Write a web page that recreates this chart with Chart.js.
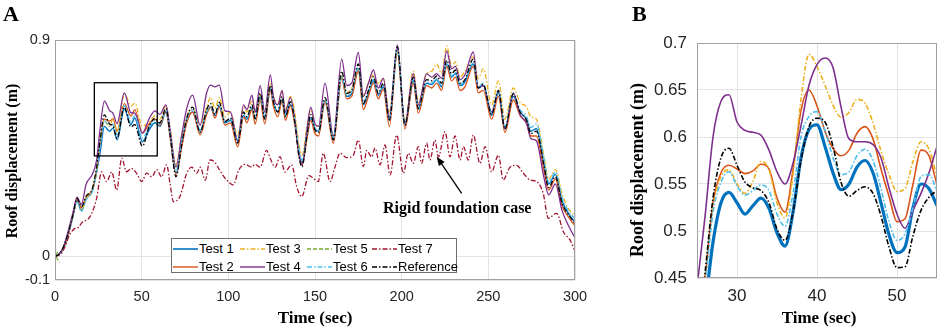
<!DOCTYPE html>
<html><head><meta charset="utf-8">
<script src="https://cdn.jsdelivr.net/npm/chart.js@4.4.1/dist/chart.umd.min.js"></script>
<style>
html,body{margin:0;padding:0;background:#fff;}
#wrap{position:relative;width:941px;height:330px;overflow:hidden;background:#fff;}
canvas{position:absolute;top:0;}
.serif{position:absolute;font-family:"Liberation Serif","Times New Roman",serif;font-weight:bold;color:#000;white-space:nowrap;line-height:1;}
.rot{transform:translate(-50%,-50%) rotate(-90deg);}
.ctr{transform:translate(-50%,-50%);}
#legend{position:absolute;left:171px;top:238px;width:286px;height:35px;border:1px solid #6e6e6e;background:#fff;box-sizing:border-box;}
.li{position:absolute;font-family:"Liberation Sans",Arial,sans-serif;font-size:13px;color:#000;line-height:1;white-space:nowrap;}
.ls{position:absolute;}
</style></head>
<body><div id="wrap">
<canvas id="cA" width="600" height="330" style="left:0"></canvas>
<canvas id="cB" width="341" height="330" style="left:600px"></canvas>
<div class="serif" style="left:3px;top:3px;font-size:22px;">A</div>
<div class="serif" style="left:632px;top:3px;font-size:22px;">B</div>
<div class="serif rot" style="left:12px;top:161px;font-size:16px;">Roof displacement (m)</div>
<div class="serif rot" style="left:637px;top:170px;font-size:18px;">Roof displacement (m)</div>
<div class="serif ctr" style="left:315px;top:317px;font-size:17px;">Time (sec)</div>
<div class="serif ctr" style="left:819px;top:317px;font-size:17px;">Time (sec)</div>
<div class="serif" style="left:383px;top:200px;font-size:16px;">Rigid foundation case</div>
<div id="legend"></div>
</div>
<script>
// ---------- Panel A data ----------
const timeA = [0,2,5,8,10.5,12.7,15.2,18,21.5,24,
26,28.5,31.5,33.5,35.8,40,43.8,46,50.4,54.5,
57.7,60.5,64,66.5,69.8,73,76,79.4,83.7,87.5,
89.8,92.3,94.8,98,101.2,105.4,108.8,110.7,113.6,115.5,
118.4,121,124.2,126.1,128.5,131,132.9,135.8,138.5,140.6,
142.5,145.4,147.5,150,152,155.8,160.6,165.4,168.3,171.2,
175,177.9,180.8,183.7,186.5,189.4,192.9,197.5,201.9,206.7,
209.6,214.4,217.3,220.2,223,226,228.8,231,233.7,236.5,
241.3,244.2,247.1,251.9,255.8,259.6,264.4,268.3,272.1,274.5,
277.7,282,284.8,288.7,292.5,296,300];

const refA = [0,0.005,0.04,0.105,0.175,0.24,0.205,0.25,0.28,0.37,
0.48,0.588,0.55,0.542,0.49,0.62,0.538,0.547,0.458,0.543,
0.574,0.555,0.615,0.5,0.33,0.46,0.575,0.62,0.515,0.61,
0.635,0.59,0.64,0.56,0.575,0.47,0.6,0.58,0.63,0.573,
0.678,0.57,0.71,0.64,0.6,0.664,0.58,0.643,0.55,0.42,
0.372,0.504,0.59,0.525,0.515,0.66,0.483,0.77,0.678,0.69,
0.8,0.636,0.69,0.747,0.678,0.72,0.567,0.872,0.545,0.745,
0.615,0.735,0.73,0.75,0.72,0.815,0.76,0.775,0.72,0.735,
0.82,0.7,0.715,0.59,0.69,0.53,0.675,0.6,0.565,0.51,
0.52,0.38,0.285,0.33,0.22,0.175,0.135];

const test1A = [0,0.005,0.035,0.1,0.17,0.23,0.19,0.24,0.27,0.35,
0.43,0.54,0.52,0.533,0.484,0.612,0.548,0.575,0.476,0.528,
0.555,0.54,0.6,0.5,0.345,0.46,0.56,0.6,0.52,0.595,
0.62,0.585,0.625,0.555,0.565,0.48,0.585,0.57,0.615,0.57,
0.66,0.575,0.695,0.635,0.6,0.65,0.585,0.63,0.555,0.44,
0.39,0.5,0.575,0.53,0.52,0.645,0.49,0.745,0.665,0.675,
0.78,0.63,0.675,0.73,0.67,0.705,0.565,0.855,0.545,0.73,
0.61,0.72,0.715,0.735,0.705,0.8,0.745,0.76,0.71,0.725,
0.8,0.7,0.71,0.585,0.68,0.53,0.665,0.6,0.57,0.52,
0.53,0.39,0.3,0.34,0.23,0.18,0.14];

const test2A = [0,0.005,0.035,0.1,0.175,0.235,0.2,0.245,0.275,0.355,
0.47,0.57,0.562,0.572,0.52,0.635,0.583,0.61,0.512,0.552,
0.57,0.545,0.605,0.49,0.34,0.45,0.555,0.6,0.505,0.59,
0.62,0.575,0.62,0.545,0.555,0.455,0.58,0.555,0.61,0.55,
0.65,0.55,0.69,0.62,0.58,0.645,0.565,0.625,0.54,0.43,
0.38,0.49,0.565,0.51,0.5,0.64,0.47,0.74,0.655,0.665,
0.77,0.61,0.665,0.72,0.655,0.695,0.54,0.85,0.53,0.72,
0.595,0.71,0.7,0.72,0.69,0.79,0.73,0.745,0.69,0.705,
0.79,0.68,0.69,0.57,0.665,0.515,0.65,0.585,0.555,0.5,
0.5,0.36,0.275,0.32,0.21,0.165,0.125];

const test3A = [0,0.005,0.035,0.1,0.17,0.23,0.19,0.24,0.275,0.355,
0.47,0.565,0.54,0.572,0.513,0.676,0.625,0.637,0.54,0.56,
0.585,0.57,0.625,0.53,0.38,0.5,0.58,0.615,0.545,0.62,
0.66,0.615,0.66,0.58,0.6,0.5,0.62,0.6,0.645,0.6,
0.67,0.6,0.72,0.665,0.63,0.685,0.61,0.665,0.59,0.47,
0.42,0.54,0.61,0.55,0.54,0.65,0.5,0.75,0.68,0.7,
0.78,0.67,0.72,0.755,0.72,0.74,0.6,0.85,0.56,0.77,
0.64,0.76,0.77,0.8,0.76,0.875,0.79,0.81,0.745,0.77,
0.83,0.74,0.78,0.63,0.73,0.57,0.7,0.64,0.62,0.58,
0.57,0.42,0.32,0.36,0.26,0.2,0.165];

const test4A = [0,0.005,0.04,0.115,0.185,0.245,0.215,0.3,0.34,0.4,
0.53,0.645,0.606,0.594,0.552,0.68,0.597,0.595,0.512,0.575,
0.605,0.59,0.63,0.52,0.37,0.5,0.615,0.67,0.545,0.68,
0.712,0.705,0.712,0.605,0.6,0.48,0.63,0.61,0.67,0.6,
0.71,0.6,0.755,0.66,0.63,0.69,0.6,0.66,0.56,0.43,
0.38,0.53,0.62,0.55,0.54,0.72,0.5,0.82,0.71,0.72,
0.848,0.665,0.72,0.775,0.7,0.74,0.58,0.88,0.55,0.76,
0.63,0.76,0.745,0.76,0.74,0.855,0.78,0.79,0.735,0.755,
0.85,0.7,0.71,0.6,0.685,0.53,0.68,0.59,0.55,0.49,
0.48,0.33,0.255,0.3,0.19,0.13,0.075];

const test6A = [0,0.005,0.035,0.1,0.17,0.23,0.185,0.235,0.27,0.35,
0.46,0.563,0.54,0.549,0.505,0.626,0.562,0.586,0.492,0.54,
0.565,0.55,0.61,0.505,0.35,0.47,0.57,0.61,0.525,0.6,
0.625,0.59,0.63,0.56,0.57,0.485,0.59,0.575,0.62,0.575,
0.665,0.58,0.7,0.64,0.605,0.655,0.59,0.64,0.56,0.45,
0.4,0.51,0.58,0.535,0.525,0.65,0.495,0.75,0.67,0.685,
0.785,0.64,0.685,0.735,0.675,0.71,0.57,0.86,0.55,0.735,
0.615,0.725,0.72,0.74,0.71,0.805,0.75,0.765,0.715,0.73,
0.805,0.705,0.72,0.595,0.69,0.54,0.675,0.61,0.58,0.535,
0.55,0.41,0.31,0.35,0.245,0.19,0.155];

const test5Time = [1.6,0.4,2.6];
const test5A = [0.018,0.0,-0.028];

const test7Time = [0,3,5.8,8.5,11.5,13.5,16.3,18.5,21.2,24,
26.9,28.3,29.8,32.7,35.6,38.5,41.3,44.2,47.1,50,
52.9,55.8,58.7,61.5,64.4,66.4,68.3,72.2,76,78.9,
81.8,83.8,86.7,89.4,92.3,95.2,99,102.9,105.8,109.6,
113.5,115.4,118.3,122.1,124,127,129.8,132.7,136.5,139.4,
142.3,146.5,151.9,154.8,158.7,161.5,164.4,168.3,172.1,175,
177.9,179.8,182.7,184.6,187.5,190.4,193.3,197.1,201,203.8,
206.7,209.6,211.5,214.4,216.3,219.2,221.2,225,227.9,230.8,
233.7,235.6,238.5,241.3,245.2,248.1,251.9,255.8,258.6,262.5,
266.3,270.2,274,277.9,281.7,284.6,289.4,293.3,297.1,300];
const test7A = [0,0.005,0.04,0.09,0.115,0.12,0.145,0.15,0.178,0.24,
0.35,0.33,0.31,0.35,0.275,0.407,0.351,0.365,0.344,0.31,
0.345,0.33,0.36,0.33,0.38,0.3,0.226,0.25,0.345,0.37,
0.345,0.37,0.316,0.4,0.39,0.355,0.317,0.296,0.355,0.382,
0.37,0.382,0.37,0.44,0.41,0.37,0.414,0.35,0.38,0.29,
0.247,0.335,0.31,0.428,0.31,0.37,0.428,0.41,0.42,0.483,
0.372,0.44,0.413,0.45,0.38,0.4625,0.3375,0.504,0.345,0.428,
0.386,0.456,0.386,0.47,0.4,0.483,0.413,0.518,0.413,0.5,
0.4,0.456,0.4,0.504,0.386,0.456,0.351,0.42,0.317,0.37,
0.378,0.345,0.317,0.31,0.26,0.157,0.178,0.101,0.067,0.02];

// ---------- Panel B data (zoom 25-55 s) ----------
const timeB = [25,26,27,28,29,30,31,32,33,34,35,36,37,38,39,40,41,42,43,44,45,46,47,48,49,50,51,52,53,54,55];
const test1B = [0.37,0.42,0.488,0.53,0.541,0.53,0.518,0.527,0.535,0.524,0.498,0.484,0.52,0.578,0.608,0.613,0.59,0.562,0.544,0.55,0.568,0.575,0.562,0.53,0.496,0.477,0.483,0.525,0.55,0.545,0.527];
const test2B = [0.4,0.45,0.53,0.562,0.57,0.566,0.561,0.564,0.571,0.566,0.535,0.52,0.565,0.628,0.65,0.633,0.606,0.588,0.58,0.586,0.604,0.611,0.598,0.566,0.537,0.51,0.513,0.55,0.586,0.58,0.549];
const test3B = [0.41,0.45,0.525,0.558,0.565,0.55,0.54,0.553,0.574,0.565,0.53,0.514,0.56,0.64,0.688,0.675,0.655,0.634,0.621,0.626,0.64,0.636,0.615,0.585,0.56,0.542,0.545,0.574,0.595,0.587,0.558];
const test4B = [0.44,0.515,0.6,0.638,0.645,0.616,0.607,0.605,0.602,0.586,0.563,0.55,0.572,0.612,0.655,0.677,0.684,0.674,0.632,0.598,0.595,0.595,0.592,0.578,0.546,0.518,0.503,0.522,0.54,0.562,0.59];
const test6B = [0.41,0.445,0.52,0.552,0.563,0.548,0.538,0.543,0.549,0.543,0.518,0.505,0.54,0.6,0.622,0.627,0.607,0.578,0.56,0.563,0.58,0.587,0.575,0.545,0.51,0.49,0.497,0.525,0.558,0.56,0.542];
const refB = [0.38,0.455,0.535,0.578,0.588,0.57,0.552,0.546,0.543,0.53,0.502,0.49,0.52,0.575,0.611,0.62,0.616,0.59,0.552,0.537,0.543,0.547,0.54,0.516,0.483,0.461,0.462,0.495,0.522,0.536,0.543];

// ---------- Ticks / annotations ----------
const xTicksA = [0,50,100,150,200,250,300];
const yTicksA = [-0.1,0,0.9];
const xTicksB = [30,40,50];
const yTicksB = [0.45,0.5,0.55,0.6,0.65,0.7];
const seriesNames = ['Test 1','Test 2','Test 3','Test 4','Test 5','Test 6','Test 7','Reference'];
const zoomBox = {x0:22.7, x1:59, y0:0.417, y1:0.722};
const arrowA = {fromX:234.6, fromY:0.261, toX:220.2, toY:0.414};

// ---------- styles ----------
const colors = {'Test 1':'#0072BD','Test 2':'#D95319','Test 3':'#EDB120','Test 4':'#7E2F8E','Test 5':'#77AC30','Test 6':'#4DBEEE','Test 7':'#A2142F','Reference':'#000000'};
const DD = [5,2,1.5,2];
const dashes = {'Test 1':[],'Test 2':[],'Test 3':DD,'Test 4':[],'Test 5':[4,2],'Test 6':DD,'Test 7':DD,'Reference':DD};
const orders = {'Test 1':7,'Test 2':6,'Test 3':5,'Test 4':4,'Test 5':3,'Test 6':2,'Test 7':1,'Reference':0};

function pts(t,v){return t.map((x,i)=>({x:x,y:v[i]}));}
function ds(name,t,v,w,mono){
  return {label:name,data:pts(t,v),borderColor:colors[name],backgroundColor:colors[name],
    borderWidth:w,borderDash:dashes[name],pointRadius:0,fill:false,order:orders[name],
    cubicInterpolationMode:mono?'monotone':'default',tension:0,borderJoinStyle:'round'};
}

const tickFont = {family:'"Liberation Sans", Arial, sans-serif'};
const framePlugin = {id:'frame',afterDatasetsDraw(chart){
  const {ctx,chartArea:a}=chart; ctx.save(); ctx.strokeStyle='#a0a0a0'; ctx.lineWidth=1;
  ctx.strokeRect(Math.round(a.left)+0.5,Math.round(a.top)+0.5,Math.round(a.right)-Math.round(a.left)-1,Math.round(a.bottom)-Math.round(a.top)-1);
  ctx.restore();}};
const annotPlugin = {id:'annotA',afterDatasetsDraw(chart){
  const x=chart.scales.x,y=chart.scales.y,ctx=chart.ctx;
  ctx.save(); ctx.strokeStyle='#000'; ctx.fillStyle='#000'; ctx.lineWidth=1.3;
  const bx0=x.getPixelForValue(zoomBox.x0),bx1=x.getPixelForValue(zoomBox.x1);
  const by0=y.getPixelForValue(zoomBox.y0),by1=y.getPixelForValue(zoomBox.y1);
  ctx.strokeRect(bx0,by1,bx1-bx0,by0-by1);
  const fx=x.getPixelForValue(arrowA.fromX),fy=y.getPixelForValue(arrowA.fromY);
  const tx=x.getPixelForValue(arrowA.toX),ty=y.getPixelForValue(arrowA.toY);
  const ang=Math.atan2(ty-fy,tx-fx),L=9,W=3.5;
  ctx.beginPath(); ctx.moveTo(fx,fy); ctx.lineTo(tx-L*0.6*Math.cos(ang),ty-L*0.6*Math.sin(ang)); ctx.stroke();
  ctx.beginPath(); ctx.moveTo(tx,ty);
  ctx.lineTo(tx-L*Math.cos(ang)+W*Math.sin(ang),ty-L*Math.sin(ang)-W*Math.cos(ang));
  ctx.lineTo(tx-L*Math.cos(ang)-W*Math.sin(ang),ty-L*Math.sin(ang)+W*Math.cos(ang));
  ctx.closePath(); ctx.fill(); ctx.restore();}};

function axis(min,max,ticks,fontSize,pad,fitKey,fitVal){
  const o={type:'linear',min:min,max:max,
    afterBuildTicks:s=>{s.ticks=ticks.map(v=>({value:v}));},
    ticks:{color:'#262626',font:Object.assign({size:fontSize},tickFont),padding:pad,maxRotation:0,autoSkip:false,callback:v=>String(v)},
    grid:{color:'#e3e3e3',drawTicks:false,lineWidth:1},border:{display:false}};
  o.afterFit=s=>{s[fitKey]=fitVal;};
  return o;
}

new Chart(document.getElementById('cA'),{type:'line',
  data:{datasets:[
    ds('Test 1',timeA,test1A,1.4,true),
    ds('Test 2',timeA,test2A,1.3,true),
    ds('Test 3',timeA,test3A,1.3,true),
    ds('Test 4',timeA,test4A,1.3,true),
    ds('Test 5',test5Time,test5A,1.3,false),
    ds('Test 6',timeA,test6A,1.3,true),
    ds('Test 7',test7Time,test7A,1.3,true),
    ds('Reference',timeA,refA,1.3,true)]},
  options:{responsive:false,animation:false,events:[],
    layout:{padding:{left:0,right:25,top:40,bottom:0}},
    plugins:{legend:{display:false},tooltip:{enabled:false},title:{display:false}},
    scales:{x:axis(0,300,xTicksA,14.5,8,'height',50),y:axis(-0.1,0.9,yTicksA,14.5,5,'width',55)}},
  plugins:[framePlugin,annotPlugin]});

new Chart(document.getElementById('cB'),{type:'line',
  data:{datasets:[
    ds('Test 1',timeB,test1B,3.2,true),
    ds('Test 2',timeB,test2B,1.6,true),
    ds('Test 3',timeB,test3B,1.6,true),
    ds('Test 4',timeB,test4B,1.6,true),
    ds('Test 6',timeB,test6B,1.6,true),
    ds('Reference',timeB,refB,1.6,true)]},
  options:{responsive:false,animation:false,events:[],
    layout:{padding:{left:0,right:4,top:43,bottom:0}},
    plugins:{legend:{display:false},tooltip:{enabled:false},title:{display:false}},
    scales:{x:axis(25,55,xTicksB,17,8,'height',52),y:axis(0.45,0.7,yTicksB,17,10,'width',97)}},
  plugins:[framePlugin]});

// ---------- HTML legend (2 rows, column-major like MATLAB NumColumns=4) ----------
const lg=document.getElementById('legend');
const colX=[1,68,135,200];
const rowY=[10,28];
seriesNames.forEach((n,i)=>{
  const c=Math.floor(i/2), r=i%2;
  const svgNS='http://www.w3.org/2000/svg';
  const svg=document.createElementNS(svgNS,'svg');
  svg.setAttribute('width','25'); svg.setAttribute('height','4'); svg.setAttribute('class','ls');
  svg.style.left=colX[c]+'px'; svg.style.top=(rowY[r]-2.5)+'px';
  const ln=document.createElementNS(svgNS,'line');
  ln.setAttribute('x1','0');ln.setAttribute('y1','2');ln.setAttribute('x2','25');ln.setAttribute('y2','2');
  ln.setAttribute('stroke',colors[n]);ln.setAttribute('stroke-width',n==='Test 1'?'1.6':'1.4');
  if(dashes[n].length) ln.setAttribute('stroke-dasharray',dashes[n].join(' '));
  svg.appendChild(ln); lg.appendChild(svg);
  const sp=document.createElement('span'); sp.className='li'; sp.textContent=n;
  sp.style.left=(colX[c]+26)+'px'; sp.style.top=(rowY[r]-7)+'px'; lg.appendChild(sp);
});
</script>
</body></html>
